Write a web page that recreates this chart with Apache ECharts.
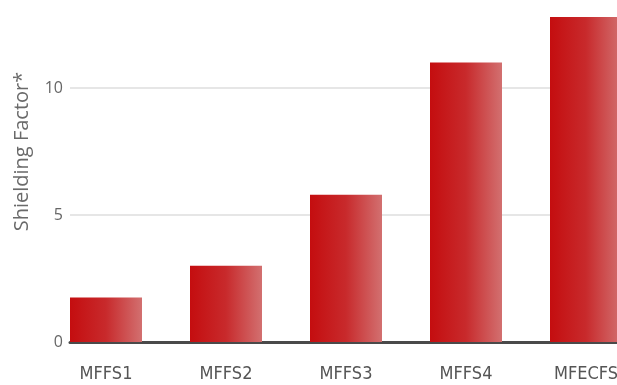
<!DOCTYPE html>
<html>
<head>
<meta charset="utf-8">
<script src="https://cdn.jsdelivr.net/npm/echarts@6/dist/echarts.min.js"></script>
<style>
  html, body { margin: 0; padding: 0; background: #fff; }
  #chart { width: 617px; height: 385px; }
</style>
</head>
<body>
<div id="chart"></div>
<script>
// data
var categories = ['MFFS1', 'MFFS2', 'MFFS3', 'MFFS4', 'MFECFS']
var shieldingFactor = [1.75, 3.0, 5.8, 11.0, 12.8]
var yTicks = [0, 5, 10, 15]

var myChart = echarts.init(document.getElementById('chart'))

// bars placed on a numeric axis so the first bar sits on the axis start
var barData = shieldingFactor.map(function (v, i) { return [i, v] })

var option = {
  animation: false,
  grid: {
    left: 70,
    top: -39,
    width: 600,
    height: 381,
    // the picture is cropped: let the plot run past the page edges
    outerBoundsMode: 'none'
  },
  xAxis: {
    type: 'value',
    min: -0.3,
    max: 4.7,
    splitLine: { show: false },
    axisLine: {
      show: true,
      onZero: false,
      lineStyle: { color: '#4a4a4a', width: 3 }
    },
    axisTick: { show: false },
    axisLabel: {
      customValues: categories.map(function (c, i) { return i }),
      formatter: function (v) { return categories[v] || '' },
      color: '#555',
      fontFamily: 'DejaVu Sans Condensed',
      fontSize: 18,
      margin: 23
    }
  },
  yAxis: {
    type: 'value',
    min: yTicks[0],
    max: yTicks[yTicks.length - 1],
    interval: 5,
    name: 'Shielding Factor*',
    nameLocation: 'middle',
    nameGap: 38,
    nameTextStyle: {
      color: '#6a6a6a',
      fontFamily: 'Open Sans',
      fontSize: 20
    },
    axisLine: { show: false },
    axisTick: { show: false },
    axisLabel: {
      color: '#666',
      fontFamily: 'Open Sans',
      fontSize: 16,
      margin: 7
    },
    splitLine: {
      lineStyle: { color: '#e6e6e6', width: 2 }
    }
  },
  series: [
    {
      type: 'bar',
      data: barData,
      barWidth: 72,
      itemStyle: {
        color: new echarts.graphic.LinearGradient(0, 0, 1, 0, [
          { offset: 0, color: '#c40d0f' },
          { offset: 0.5, color: '#c82a2c' },
          { offset: 1, color: '#d27070' }
        ])
      }
    }
  ]
}

myChart.setOption(option)
</script>
</body>
</html>
